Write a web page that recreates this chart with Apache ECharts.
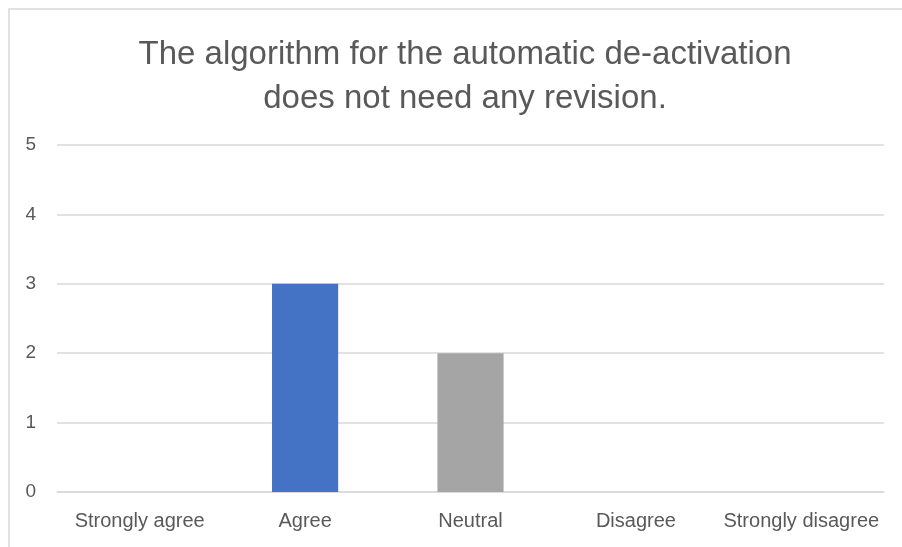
<!DOCTYPE html>
<html>
<head>
<meta charset="utf-8">
<script src="https://cdn.jsdelivr.net/npm/echarts@6/dist/echarts.min.js"></script>
<style>
html,body{margin:0;padding:0;background:#fff;}
#c{width:902px;height:547px;}
</style>
</head>
<body>
<div id="c"></div>
<script>
const categories = ["Strongly agree", "Agree", "Neutral", "Disagree", "Strongly disagree"];
const values = [0, 3, 2, 0, 0];
const yTicks = [0, 1, 2, 3, 4, 5];
const titleLines = ["The algorithm for the automatic de-activation", "does not need any revision."];

const barColors = ["#4472C4", "#4472C4", "#A5A5A5", "#FFC000", "#5B9BD5"];
const font = "'Liberation Sans', Arial, sans-serif";

const chart = echarts.init(document.getElementById('c'), null, {renderer: 'canvas'});
chart.setOption({
  animation: false,
  backgroundColor: '#fff',
  title: {
    text: titleLines.join('\n'),
    left: 460,
    top: 28,
    textAlign: 'center',
    textStyle: {
      fontFamily: font,
      fontSize: 33,
      fontWeight: 'normal',
      color: '#595959',
      lineHeight: 44
    }
  },
  graphic: [{
    type: 'rect',
    shape: {x: 9, y: 9, width: 1000, height: 600},
    style: {fill: 'none', stroke: '#d9d9d9', lineWidth: 1.5},
    silent: true
  }],
  grid: {left: 57, right: 18, top: 145, bottom: 55, containLabel: false},
  xAxis: {
    type: 'category',
    data: categories,
    axisLine: {show: true, lineStyle: {color: '#d9d9d9', width: 1.5}},
    axisTick: {show: false},
    axisLabel: {fontFamily: font, fontSize: 20, color: '#595959', margin: 19, interval: 0}
  },
  yAxis: {
    type: 'value',
    min: yTicks[0],
    max: yTicks[yTicks.length - 1],
    interval: 1,
    axisLine: {show: false},
    axisTick: {show: false},
    splitLine: {lineStyle: {color: '#d9d9d9', width: 1.5}},
    axisLabel: {fontFamily: font, fontSize: 19, color: '#595959', margin: 21}
  },
  series: [{
    type: 'bar',
    barWidth: '40%',
    data: values.map((v, i) => ({value: v, itemStyle: {color: barColors[i]}}))
  }]
});
</script>
</body>
</html>
